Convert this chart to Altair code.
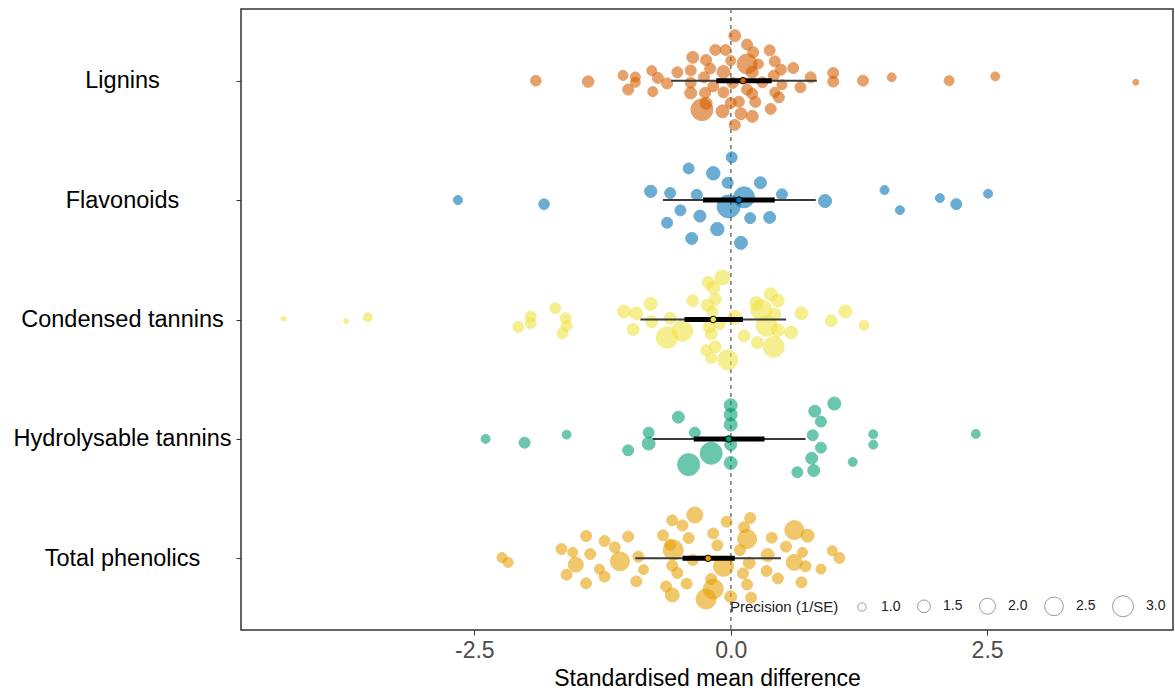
import altair as alt
import pandas as pd

groups = ["Lignins", "Flavonoids", "Condensed tannins", "Hydrolysable tannins", "Total phenolics"]
colors = ["#D55E00", "#0072B2", "#F0E442", "#009E73", "#E69F00"]

# ---- effect sizes (x), beeswarm offsets (category units) and precision (1/SE) ----
lig_x = [-1.90, -1.39, -1.05, -0.93, -0.93, -1.00, -0.77, -0.71, -0.76, -0.62, -0.52, -0.39, -0.37, -0.39, -0.39,
         -0.24, -0.20, -0.26, -0.17, -0.25, -0.28, -0.24, -0.15, -0.05, 0.04, -0.07, 0.00, 0.02, -0.07, -0.08,
         0.00, 0.08, 0.10, 0.04, 0.16, 0.22, 0.16, 0.27, 0.21, 0.16, 0.21, 0.24, 0.21, 0.38, 0.43,
         0.49, 0.42, 0.31, 0.50, 0.43, 0.47, 0.39, 0.61, 0.68, 0.78, 1.00, 1.00, 1.29, 1.57, 2.13, 2.58, 3.95]
lig_j = [0.000, 0.008, -0.044, -0.031, 0.014, 0.075, -0.084, -0.023, 0.092, 0.023, -0.070, -0.086, -0.195, 0.017, 0.103,
         -0.173, -0.101, -0.028, 0.048, 0.103, 0.243, 0.190, -0.257, -0.257, -0.377, -0.073, -0.168, 0.019, 0.098, 0.257,
         0.187, 0.176, 0.277, 0.371, -0.302, -0.237, -0.140, -0.140, -0.070, 0.075, 0.109, 0.178, 0.299, -0.254, -0.162,
         -0.092, -0.042, 0.014, 0.034, 0.098, 0.140, 0.237, -0.106, 0.056, -0.028, -0.064, 0.008, 0.000, -0.028, 0.000, -0.036, 0.014]
lig_p = [1.24, 1.35, 1.17, 1.17, 1.17, 1.28, 1.17, 1.28, 1.17, 1.28, 1.28, 1.28, 1.40, 1.28, 1.40,
         1.28, 1.28, 1.28, 1.28, 1.28, 3.23, 1.40, 1.28, 1.28, 1.40, 1.54, 1.17, 1.28, 1.28, 1.54,
         1.28, 1.28, 1.40, 1.28, 1.28, 1.28, 2.78, 1.17, 1.40, 1.28, 1.28, 1.28, 1.40, 1.28, 1.28,
         1.28, 1.28, 1.28, 1.17, 1.17, 1.28, 1.28, 1.28, 1.28, 1.28, 1.28, 1.28, 1.28, 1.06, 1.17, 1.06, 0.82]

fla_x = [-2.66, -1.82, -0.78, -0.59, -0.41, -0.17, -0.03, 0.01, -0.33, -0.49, -0.62, -0.30, -0.38, -0.13,
         -0.02, 0.13, 0.10, 0.19, 0.29, 0.38, 0.50, 0.92, 1.50, 1.65, 2.04, 2.20, 2.51]
fla_j = [0.000, 0.034, -0.073, -0.059, -0.265, -0.224, -0.145, -0.358, -0.044, 0.086, 0.190, 0.134, 0.321, 0.243,
         0.053, -0.023, 0.358, 0.151, -0.145, 0.145, -0.048, 0.008, -0.084, 0.084, -0.017, 0.034, -0.053]
fla_p = [1.08, 1.24, 1.43, 1.28, 1.28, 1.60, 1.28, 1.28, 1.28, 1.28, 1.28, 1.40, 1.40, 1.60,
         3.47, 3.00, 1.54, 1.28, 1.40, 1.40, 1.28, 1.54, 1.06, 1.06, 1.06, 1.28, 1.06]

con_x = [-4.36, -3.75, -3.54, -2.07, -1.95, -1.95, -1.71, -1.61, -1.60, -1.64, -1.04, -0.92, -0.78, -0.77, -0.95, -0.59,
         -0.62, -0.47, -0.37, -0.22, -0.08, -0.17, -0.15, -0.23, -0.18, -0.21, -0.19, -0.11, 0.04, -0.24, -0.15, -0.19,
         -0.03, 0.13, 0.26, 0.25, 0.30, 0.39, 0.46, 0.43, 0.35, 0.46, 0.42, 0.59, 0.69, 0.98, 1.12, 1.30]
con_j = [-0.006, 0.014, -0.019, 0.061, -0.025, 0.031, -0.095, -0.011, 0.053, 0.115, -0.067, -0.050, -0.131, 0.019, 0.084, -0.011,
         0.151, 0.095, -0.157, -0.310, -0.352, -0.268, -0.170, -0.120, -0.070, 0.061, 0.120, 0.034, -0.017, 0.257, 0.229, 0.324,
         0.338, 0.137, 0.193, -0.137, -0.078, -0.212, -0.159, -0.044, 0.053, 0.090, 0.229, 0.109, -0.053, 0.011, -0.067, 0.048]
con_p = [0.76, 0.76, 1.06, 1.28, 1.28, 1.28, 1.28, 1.28, 1.28, 1.28, 1.54, 1.54, 1.54, 1.40, 1.40, 1.40,
         3.11, 2.93, 1.40, 1.40, 1.84, 1.54, 1.40, 1.40, 1.28, 1.40, 1.40, 1.40, 1.68, 1.28, 1.40, 1.28,
         2.78, 1.40, 1.40, 1.54, 3.00, 1.54, 1.54, 1.40, 3.00, 1.54, 3.00, 1.54, 1.54, 1.40, 1.54, 1.17]

hyd_x = [-2.39, -2.01, -1.60, -1.00, -0.80, -0.80, -0.51, -0.35, -0.41, -0.19, 0.00, 0.00, 0.00, 0.00,
         0.00, 0.82, 1.01, 0.88, 0.80, 0.88, 0.79, 0.65, 0.81, 1.19, 1.39, 1.39, 2.39]
hyd_j = [0.000, 0.031, -0.036, 0.095, -0.053, 0.039, -0.182, -0.053, 0.215, 0.120, -0.282, -0.204, -0.120, 0.048,
         0.201, -0.232, -0.296, -0.145, -0.031, 0.073, 0.162, 0.279, 0.265, 0.193, -0.039, 0.048, -0.042]
hyd_p = [1.06, 1.28, 1.06, 1.28, 1.28, 1.54, 1.40, 1.28, 3.23, 3.23, 1.54, 1.54, 1.54, 1.40,
         1.54, 1.40, 1.54, 1.28, 1.28, 1.28, 1.40, 1.28, 1.40, 1.06, 1.06, 1.06, 1.06]

tot_x = [-2.23, -2.17, -1.65, -1.54, -1.51, -1.60, -1.41, -1.37, -1.28, -1.23, -1.41, -1.23, -1.13, -1.08, -1.00, -0.90,
         -0.85, -0.92, -0.66, -0.59, -0.56, -0.57, -0.52, -0.63, -0.57, -0.57, -0.47, -0.35, -0.41, -0.37, -0.43,
         -0.24, -0.17, -0.19, -0.17, -0.13, -0.04, -0.07, 0.00, 0.12, 0.13, 0.19, 0.16, 0.09, 0.18, 0.16,
         0.20, 0.35, 0.36, 0.40, 0.46, 0.54, 0.62, 0.75, 0.62, 0.70, 0.73, 0.69, 0.88, 0.99, 1.06]
tot_j = [-0.006, 0.034, -0.078, -0.050, 0.053, 0.137, -0.187, -0.036, 0.090, 0.153, 0.209, -0.145, -0.092, 0.025, -0.182, -0.014,
         0.095, 0.193, -0.193, -0.115, -0.070, 0.061, 0.123, 0.235, 0.307, -0.318, -0.276, -0.363, -0.170, 0.014, 0.212,
         0.341, 0.257, 0.173, -0.209, -0.109, -0.307, 0.067, 0.321, 0.126, -0.260, -0.338, -0.162, -0.070, 0.039, 0.220,
         0.329, 0.106, -0.028, -0.173, 0.168, -0.098, -0.237, -0.190, 0.034, -0.050, 0.067, 0.201, 0.090, -0.064, -0.003]
tot_p = [1.17, 1.17, 1.28, 1.17, 1.84, 1.28, 1.28, 1.28, 1.17, 1.28, 1.28, 1.28, 1.28, 2.57, 1.28, 1.28,
         1.17, 1.28, 1.28, 1.28, 2.78, 1.28, 1.28, 1.28, 1.68, 1.28, 1.28, 2.01, 1.28, 1.28, 1.28,
         2.78, 2.78, 1.28, 1.28, 1.28, 1.28, 2.78, 1.40, 1.28, 1.28, 1.28, 2.57, 1.28, 1.40, 1.28,
         1.28, 1.28, 1.54, 1.28, 1.28, 1.28, 2.57, 1.54, 2.01, 1.17, 1.28, 1.28, 1.17, 1.17, 1.28]

# ---- model estimates ----
est_mean = [0.12, 0.08, -0.17, -0.02, -0.22]
ci_lo = [-0.14, -0.27, -0.45, -0.36, -0.47]
ci_hi = [0.40, 0.43, 0.12, 0.33, 0.04]
pi_lo = [-0.58, -0.66, -0.88, -0.76, -0.93]
pi_hi = [0.84, 0.83, 0.54, 0.73, 0.49]

legend_values = [1.0, 1.5, 2.0, 2.5, 3.0]
x_ticks = [-2.5, 0.0, 2.5]

rows = []
for gi, (g, xs, js, ps) in enumerate(zip(groups,
                                         [lig_x, fla_x, con_x, hyd_x, tot_x],
                                         [lig_j, fla_j, con_j, hyd_j, tot_j],
                                         [lig_p, fla_p, con_p, hyd_p, tot_p])):
    for x, j, p in zip(xs, js, ps):
        rows.append({"group": g, "smd": x, "pos": gi + 1 + j, "prec": p})
pts = pd.DataFrame(rows)

summ = pd.DataFrame({"group": groups, "pos": list(range(1, 6)), "mean": est_mean,
                     "ci_lo": ci_lo, "ci_hi": ci_hi, "pi_lo": pi_lo, "pi_hi": pi_hi})

FONT = "Liberation Sans"
xscale = alt.Scale(domain=[-4.775, 4.313], nice=False, zero=False)
yscale = alt.Scale(domain=[0.4, 5.6], nice=False, zero=False, reverse=True)
cscale = alt.Scale(domain=groups, range=colors)

label_arr = "['', " + ", ".join("'" + g + "'" for g in groups) + "]"
yaxis = alt.Axis(values=[1, 2, 3, 4, 5], labelExpr=label_arr + "[datum.value]", labelAlign="center",
                 labelBaseline="middle", labelPadding=114, labelFontSize=23.5, labelColor="black",
                 labelLimit=0, tickSize=5, tickColor="#333333", domain=False, grid=False, title=None,
                 labelFont=FONT)
xaxis = alt.Axis(values=x_ticks,
                 labelExpr="datum.value < 0 ? '-' + format(abs(datum.value), '.1f') : format(datum.value, '.1f')",
                 labelFontSize=23, labelColor="#4D4D4D", labelPadding=4, tickSize=5, tickColor="#333333",
                 domain=False, grid=False, title="Standardised mean difference", titleFontSize=23,
                 titleColor="black", titleFontWeight="normal", titlePadding=5, labelFont=FONT, titleFont=FONT)

base_pts = alt.Chart(pts)
base_sum = alt.Chart(summ)

zero_line = alt.Chart(summ).mark_rule(strokeDash=[4, 4], color="#808080", strokeWidth=1).encode(
    x=alt.datum(0, scale=xscale, axis=xaxis))

points = base_pts.mark_circle(opacity=0.58, strokeWidth=1).encode(
    x=alt.X("smd:Q", scale=xscale, axis=xaxis),
    y=alt.Y("pos:Q", scale=yscale, axis=yaxis),
    color=alt.Color("group:N", scale=cscale, legend=None),
    stroke=alt.Stroke("group:N", scale=cscale, legend=None),
    size=alt.Size("prec:Q", scale=alt.Scale(domain=[1, 3], range=[69, 441], zero=False),
                  legend=alt.Legend(title="Precision (1/SE)", values=legend_values, format=".1f",
                                    orient="none", legendX=489, legendY=586, direction="horizontal",
                                    titleOrient="left", titleFontSize=15, titleFontWeight="normal",
                                    titleColor="#222222", titleBaseline="middle", titleAnchor="middle",
                                    labelFontSize=14, labelColor="#222222",
                                    symbolFillColor="transparent", symbolStrokeColor="#9a9a9a",
                                    symbolStrokeWidth=1, symbolOpacity=1, symbolType="circle",
                                    columnPadding=14, labelOffset=12, titlePadding=16,
                                    titleFont=FONT, labelFont=FONT)),
)

pi_rule = base_sum.mark_rule(color="#3a3a3a", strokeWidth=2).encode(
    x=alt.X("pi_lo:Q", scale=xscale, axis=xaxis), x2="pi_hi:Q",
    y=alt.Y("pos:Q", scale=yscale, axis=yaxis))

ci_rule = base_sum.mark_rule(color="black", strokeWidth=5).encode(
    x=alt.X("ci_lo:Q", scale=xscale, axis=xaxis), x2="ci_hi:Q",
    y=alt.Y("pos:Q", scale=yscale, axis=yaxis))

mean_pt = base_sum.mark_circle(size=42, stroke="black", strokeWidth=1, opacity=1).encode(
    x=alt.X("mean:Q", scale=xscale, axis=xaxis),
    y=alt.Y("pos:Q", scale=yscale, axis=yaxis),
    fill=alt.Fill("group:N", scale=cscale, legend=None))

chart = alt.layer(zero_line, points, pi_rule, ci_rule, mean_pt).properties(
    width=932, height=621,
    autosize=alt.AutoSizeParams(type="none"),
    padding={"left": 241, "top": 9, "right": 2, "bottom": 65},
).configure(font=FONT).configure_view(stroke="#333333", strokeWidth=1.5)

chart.save("out.html", embed_options={"renderer": "svg", "actions": False})
